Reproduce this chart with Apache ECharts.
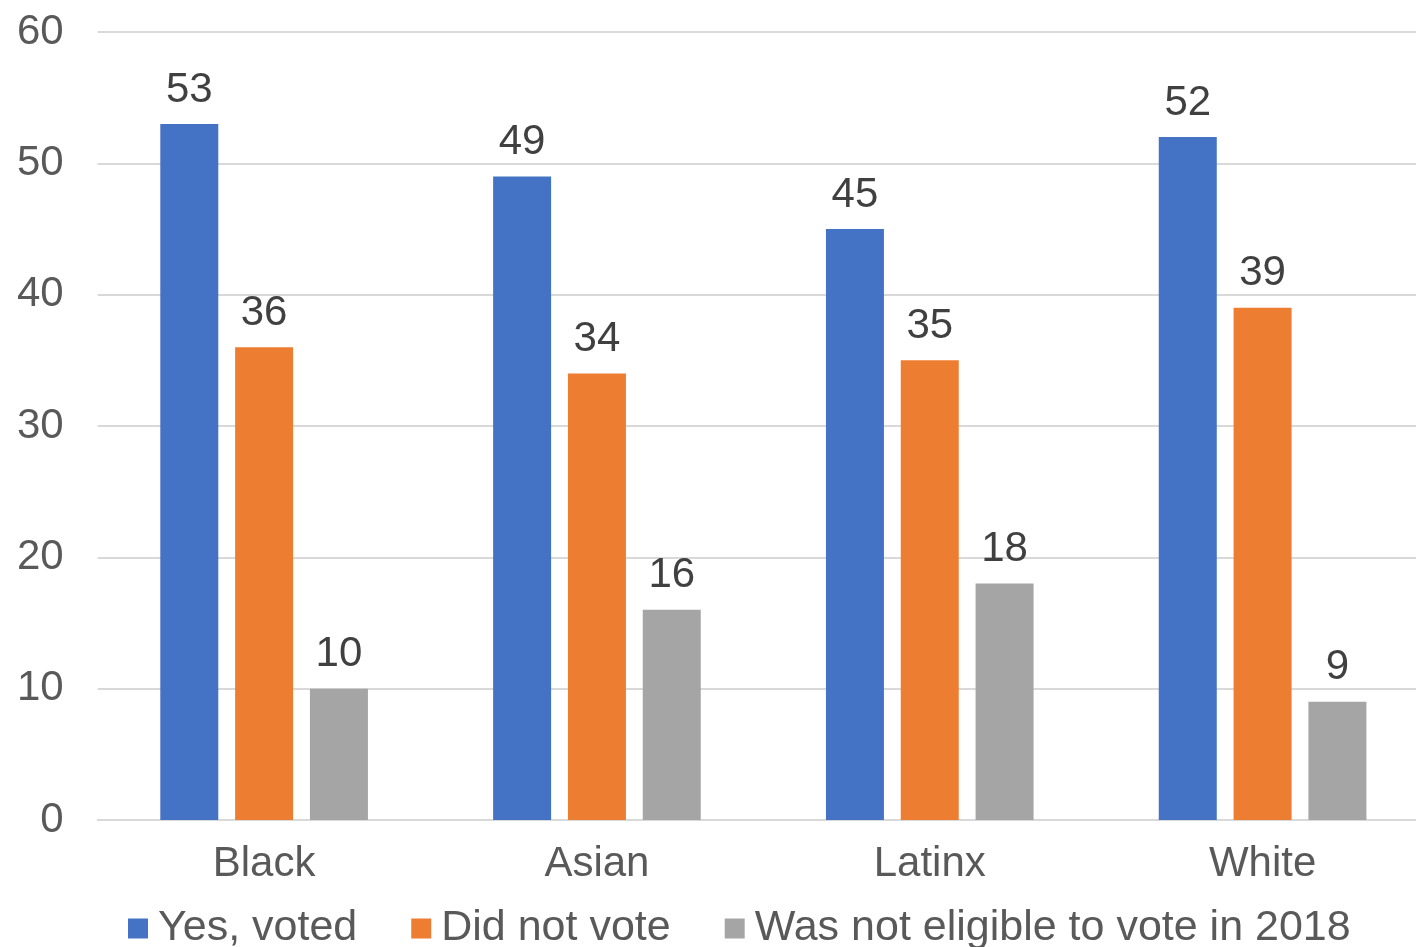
<!DOCTYPE html>
<html>
<head>
<meta charset="utf-8">
<script src="https://cdn.jsdelivr.net/npm/echarts@6/dist/echarts.min.js"></script>
<style>html,body{margin:0;padding:0;background:#fff;overflow:hidden;}#c{width:1429px;height:947px;}</style>
</head>
<body>
<div id="c"></div>
<script>
const categories = ['Black', 'Asian', 'Latinx', 'White'];
const seriesNames = ['Yes, voted', 'Did not vote', 'Was not eligible to vote in 2018'];
const yesVoted = [53, 49, 45, 52];
const didNotVote = [36, 34, 35, 39];
const notEligible = [10, 16, 18, 9];
const colors = ['#4472C4', '#ED7D31', '#A5A5A5'];
const yTicks = { min: 0, max: 60, interval: 10 };

const FONT = '"Liberation Sans", Arial, Helvetica, sans-serif';
const chart = echarts.init(document.getElementById('c'));
const values = [yesVoted, didNotVote, notEligible];
chart.setOption({
  animation: false,
  backgroundColor: '#ffffff',
  textStyle: { fontFamily: FONT },
  grid: { left: 97.7, right: 0, top: 32, bottom: 127, containLabel: false },
  legend: {
    left: 128, top: 907, padding: 0,
    itemWidth: 20, itemHeight: 20, itemGap: 54,
    icon: 'rect',
    textStyle: { fontFamily: FONT, fontSize: 43, color: '#595959', lineHeight: 43, padding: [0, 0, 0, 5] },
    data: seriesNames
  },
  xAxis: {
    type: 'category',
    data: categories,
    axisLine: { show: true, lineStyle: { color: '#d9d9d9', width: 2 } },
    axisTick: { show: false },
    axisLabel: { fontFamily: FONT, fontSize: 42, color: '#595959', margin: 23, lineHeight: 42 }
  },
  yAxis: {
    type: 'value',
    min: yTicks.min, max: yTicks.max, interval: yTicks.interval,
    axisLine: { show: false },
    axisTick: { show: false },
    splitLine: { lineStyle: { color: '#d9d9d9', width: 2 } },
    axisLabel: { fontFamily: FONT, fontSize: 42, color: '#595959', margin: 34, lineHeight: 42, padding: [0, 0, 7, 0] }
  },
  series: seriesNames.map((n, i) => ({
    name: n,
    type: 'bar',
    data: values[i],
    barWidth: 58,
    barGap: '29%',
    itemStyle: { color: colors[i] },
    label: {
      show: true, position: 'top', distance: 13,
      fontFamily: FONT, fontSize: 42, lineHeight: 42, color: '#404040'
    }
  }))
});
</script>
</body>
</html>
